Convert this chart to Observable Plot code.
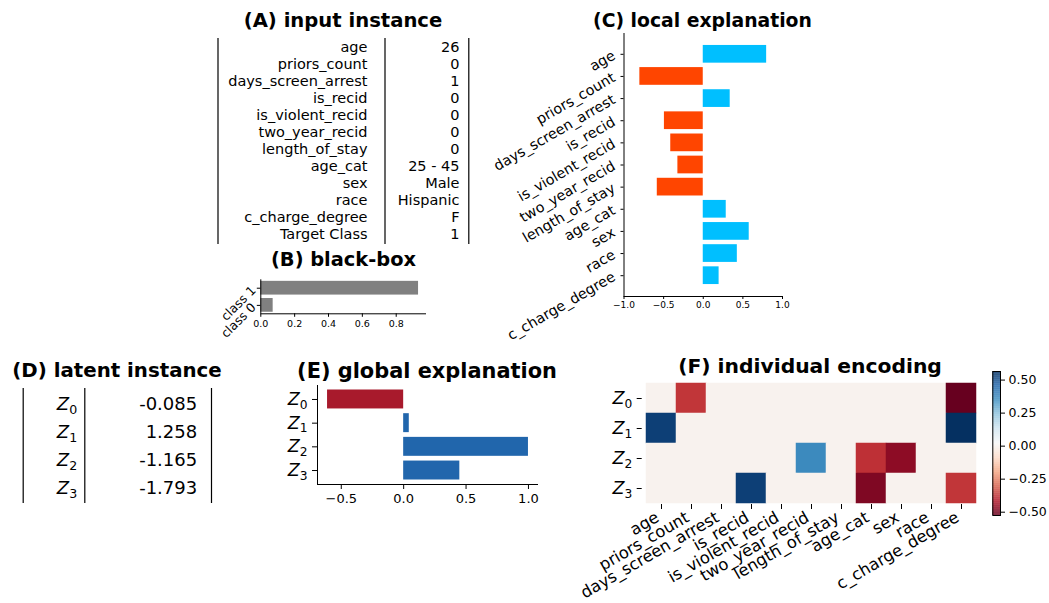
<!DOCTYPE html>
<html><head><meta charset="utf-8">
<script src="https://cdn.jsdelivr.net/npm/d3@7"></script>
<script src="https://cdn.jsdelivr.net/npm/@observablehq/plot@0.6"></script>
<style>
body{margin:0;background:#fff;}
#root{position:relative;width:1049px;height:603px;overflow:hidden;background:#fff;font-family:"DejaVu Sans";}
.panel{position:absolute;}
.title{position:absolute;width:400px;font-family:"DejaVu Sans";font-weight:bold;line-height:1;text-align:center;white-space:nowrap;color:#000;}
</style></head><body><div id="root"></div>
<script>
// ---------------- data ----------------
const features = ["age","priors_count","days_screen_arrest","is_recid","is_violent_recid","two_year_recid","length_of_stay","age_cat","sex","race","c_charge_degree"];
const inputLabels = [...features, "Target Class"];
const inputValues = ["26","0","1","0","0","0","0","25 - 45","Male","Hispanic","F","1"];
const classes = ["class 0","class 1"];
const classProba = [0.073, 0.932];
const localImportance = [0.80,-0.80,0.34,-0.49,-0.41,-0.32,-0.58,0.29,0.58,0.43,0.20];
const latentNames = ["Z0","Z1","Z2","Z3"];
const latentValues = ["-0.085","1.258","-1.165","-1.793"];
const globalImportance = [-0.61,0.045,1.0,0.45];
const encoding = [ // rows Z0..Z3, columns = features
  [0,-0.37,0,0,0,0,0,0,0,0,-0.525],
  [0.535,0,0,0,0,0,0,0,0,0,0.565],
  [0,0,0,0,0,0.37,0,-0.38,-0.47,0,0],
  [0,0,0,0.535,0,0,0,-0.49,0,0,-0.37]
];
const barTicks = [0,0.2,0.4,0.6,0.8];
const localTicks = [-1,-0.5,0,0.5,1];
const globalTicks = [-0.5,0,0.5,1];
const cbarTicks = [-0.5,-0.25,0,0.25,0.5];
const encDomain = [-0.525, 0.565];
// matplotlib RdBu anchor colours
const rdbu = ["#67001f","#b2182b","#d6604d","#f4a582","#fddbc7","#f7f7f7","#d1e5f0","#92c5de","#4393c3","#2166ac","#053061"];

// ---------------- helpers ----------------
const root = document.getElementById("root");
const baseStyle = {fontFamily:"DejaVu Sans", background:"transparent", overflow:"visible", color:"#000"};
function place(el, left, top){
  const d = document.createElement("div");
  d.className = "panel"; d.style.left = left+"px"; d.style.top = top+"px";
  d.appendChild(el); root.appendChild(d); return d;
}
function title(text, cx, baseline, size){
  const d = document.createElement("div");
  d.className = "title"; d.textContent = text;
  d.style.fontSize = size+"px";
  d.style.left = (cx-200)+"px"; d.style.top = (baseline-0.846*size)+"px";
  root.appendChild(d);
}
function subscriptZ(svg){
  d3.select(svg).selectAll("text").each(function(){
    if (this.children.length) return;
    const m = /^Z(\d)$/.exec(this.textContent);
    if (!m) return;
    const s = d3.select(this); s.text(null);
    s.append("tspan").attr("font-style","italic").text("Z");
    s.append("tspan").attr("font-size","0.7em").attr("dy","0.28em").text(m[1]);
  });
}
const red = "#a81a2c", blue = "#2166ac";
const cRed = "#ff4500", cBlue = "#00bfff";

// ---------------- (A) input instance ----------------
const tableA = inputLabels.map((f,i)=>({f, v:inputValues[i]}));
const A = Plot.plot({
  width:290, height:206, margin:0, style:baseStyle,
  x:{type:"linear", domain:[0,290], range:[0,290], axis:null},
  y:{type:"point", domain:inputLabels, range:[9.3,196.3], padding:0, axis:null},
  marks:[
    Plot.ruleX([17.5,184.5,268.3], {strokeWidth:1.2}),
    Plot.text(tableA, {x:()=>167, y:"f", text:"f", textAnchor:"end", fontSize:14.5}),
    Plot.text(tableA, {x:()=>259, y:"f", text:"v", textAnchor:"end", fontSize:14.5})
  ]
});
place(A, 200, 38);
title("(A) input instance", 343, 28, 19.6);

// ---------------- (B) black-box ----------------
const dataB = classes.map((c,i)=>({c, i, p:classProba[i]}));
const B = Plot.plot({
  width:240, height:80, marginLeft:60.3, marginRight:14, marginTop:9.3, marginBottom:36.7, style:baseStyle,
  x:{domain:[0,0.979]},
  y:{domain:[-0.49,1.49]},
  marks:[
    Plot.rectX(dataB, {x1:0, x2:"p", y1:d=>d.i-0.4, y2:d=>d.i+0.4, fill:"#808080"}),
    Plot.ruleX([0]), Plot.ruleY([-0.49]),
    Plot.axisX({ticks:barTicks, tickFormat:d3.format(".1f"), tickSize:3.5, tickPadding:3, fontSize:9.5, label:null}),
    Plot.axisY({ticks:[0,1], tickFormat:()=>"", tickSize:3.5, label:null}),
    Plot.text(dataB, {y:"i", text:"c", frameAnchor:"left", dx:-7, textAnchor:"end", lineAnchor:"middle", rotate:-45, fontSize:12.5})
  ]
});
place(B, 200, 270);
title("(B) black-box", 343.5, 266, 19.4);

// ---------------- (C) local explanation ----------------
const dataC = features.map((f,i)=>({f, i, v:localImportance[i]}));
const C = Plot.plot({
  width:320, height:300, marginLeft:143.5, marginRight:18, marginTop:8, marginBottom:29, style:baseStyle,
  x:{domain:[-1,1]},
  y:{domain:[-0.94,10.94], reverse:true},
  marks:[
    Plot.rectX(dataC, {x1:0, x2:"v", y1:d=>d.i-0.4, y2:d=>d.i+0.4, fill:d=>d.v<0?cRed:cBlue}),
    Plot.ruleX([-1]), Plot.ruleY([10.94]),
    Plot.axisX({ticks:localTicks, tickFormat:d3.format(".1f"), tickSize:3, tickPadding:2.5, fontSize:9, label:null}),
    Plot.axisY({ticks:features.map((_,i)=>i), tickFormat:()=>"", tickSize:3, label:null}),
    Plot.text(dataC, {y:"i", text:"f", frameAnchor:"left", dx:-10, textAnchor:"end", lineAnchor:"middle", rotate:-30, fontSize:14.3})
  ]
});
place(C, 480, 25);
title("(C) local explanation", 702.5, 28, 18.8);

// ---------------- (D) latent instance ----------------
const tableD = latentNames.map((z,i)=>({z, v:latentValues[i]}));
const D = Plot.plot({
  width:230, height:115, margin:0, style:baseStyle,
  x:{type:"linear", domain:[0,230], range:[0,230], axis:null},
  y:{type:"point", domain:latentNames, range:[15,100], padding:0, axis:null},
  marks:[
    Plot.ruleX([22.7,84.3,211], {strokeWidth:1.2}),
    Plot.text(tableD, {x:()=>76.7, y:"z", text:"z", textAnchor:"end", fontSize:18}),
    Plot.text(tableD, {x:()=>196.7, y:"z", text:"v", textAnchor:"end", fontSize:18})
  ]
});
subscriptZ(D);
place(D, 0, 388);
title("(D) latent instance", 117, 377.7, 19.8);

// ---------------- (E) global explanation ----------------
const dataE = latentNames.map((z,i)=>({z, i, v:globalImportance[i]}));
const E = Plot.plot({
  width:280, height:130, marginLeft:47, marginRight:12, marginTop:5, marginBottom:26, style:baseStyle,
  x:{domain:[-0.6905,1.0805]},
  y:{domain:[-0.59,3.59], reverse:true},
  marks:[
    Plot.rectX(dataE, {x1:0, x2:"v", y1:d=>d.i-0.4, y2:d=>d.i+0.4, fill:d=>d.v<0?red:blue}),
    Plot.ruleX([-0.6905]), Plot.ruleY([3.59]),
    Plot.axisX({ticks:globalTicks, tickFormat:d3.format(".1f"), tickSize:5, tickPadding:4.5, fontSize:13, label:null}),
    Plot.axisY({ticks:[0,1,2,3], tickFormat:i=>latentNames[i], tickSize:5, tickPadding:5, fontSize:17.5, label:null})
  ]
});
subscriptZ(E);
place(E, 270, 380);
title("(E) global explanation", 427, 378.3, 20.9);

// ---------------- (F) individual encoding ----------------
const cells = [];
latentNames.forEach((z,r)=>features.forEach((f,c)=>cells.push({z, f, v:encoding[r][c]})));
const colorOpts = {type:"linear", domain:d3.quantize(d3.interpolateNumber(encDomain[0], encDomain[1]), rdbu.length), range:rdbu, interpolate:"rgb"};
const F = Plot.plot({
  width:410, height:228, marginLeft:61.7, marginRight:10.7, marginTop:6, marginBottom:99, style:baseStyle,
  x:{type:"band", domain:features, padding:0},
  y:{type:"band", domain:latentNames, padding:0},
  color:colorOpts,
  marks:[
    Plot.cell(cells, {x:"f", y:"z", fill:"v", stroke:"v", strokeWidth:0.5}),
    Plot.axisX({tickSize:5, tickFormat:()=>"", label:null}),
    Plot.axisY({tickSize:5, tickPadding:5, fontSize:17.5, label:null}),
    Plot.text(features, {x:d=>d, text:d=>d, frameAnchor:"bottom", dx:-7, dy:6, textAnchor:"end", lineAnchor:"top", rotate:-30, fontSize:16.3})
  ]
});
subscriptZ(F);
place(F, 580, 375);
title("(F) individual encoding", 810, 373.5, 20.3);

// colorbar
const cbarSteps = d3.range(encDomain[0], encDomain[1], 0.005);
const CB = Plot.plot({
  width:64, height:160, marginLeft:7.3, marginRight:49, marginTop:6, marginBottom:10, style:baseStyle,
  x:{domain:[0,1], axis:null},
  y:{domain:encDomain},
  color:colorOpts,
  marks:[
    Plot.rect(cbarSteps, {x1:0, x2:1, y1:d=>d, y2:d=>Math.min(d+0.0056, encDomain[1]), fill:d=>d+0.0025}),
    Plot.frame({stroke:"#000", strokeWidth:1}),
    Plot.axisY({anchor:"right", ticks:cbarTicks, tickFormat:d3.format(".2f"), tickSize:4, tickPadding:4, fontSize:12.5, label:null})
  ]
});
place(CB, 985, 365);
</script></body></html>
